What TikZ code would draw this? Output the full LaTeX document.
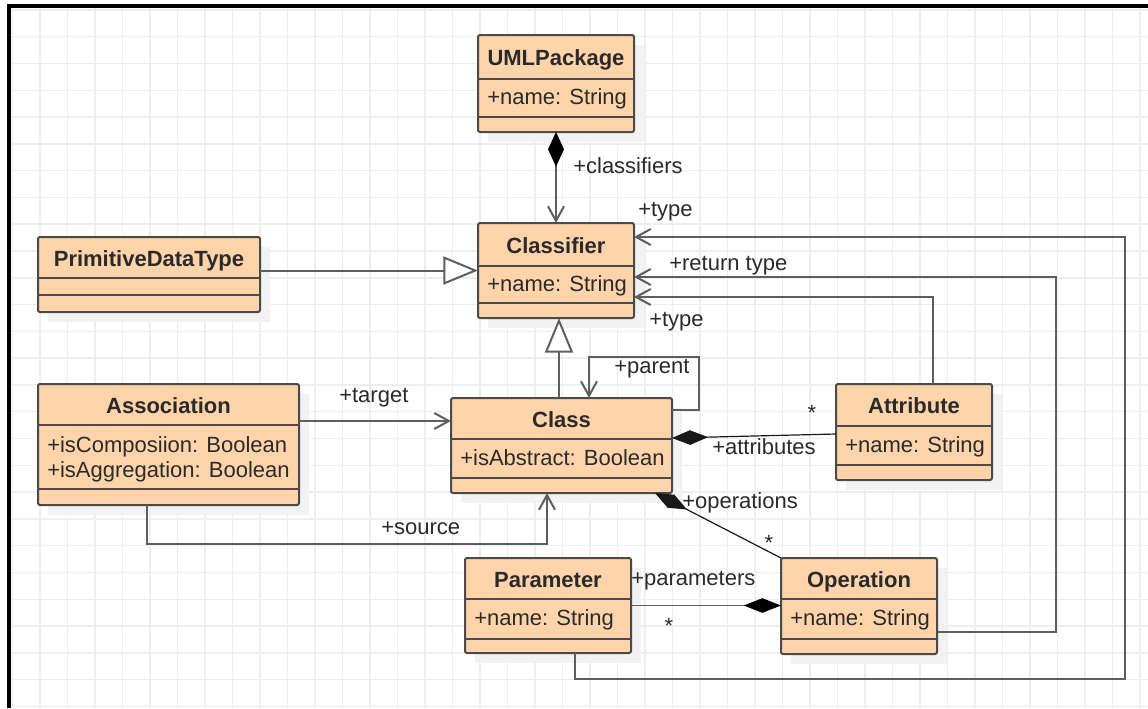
\documentclass[tikz,border=0pt]{standalone}
\usepackage{fontspec}
\setmainfont{Liberation Sans}
\usetikzlibrary{arrows.meta,calc,fit}
\definecolor{boxfill}{HTML}{FFD4AA}
\definecolor{boxline}{HTML}{4A4A4A}
\definecolor{linegray}{HTML}{5E5E5E}
\definecolor{txt}{HTML}{2A2A2A}
\definecolor{gridc}{HTML}{EEEEEE}
\newcommand{\umlfont}{\fontsize{16.5}{20}\selectfont}
% name, x1, y1, x2, y2, divider1, divider2, title, attribute
\newcommand{\umlcls}[9]{%
  \fill[boxshadow] ($(#2,#3)+(10,10)$) rectangle ($(#4,#5)+(10,10)$);
  \node[umlbox, fit={(#2,#3) (#4,#5)}] (#1) {};
  \draw[divider] (#2,#6) -- (#4,#6);
  \draw[divider] (#2,#7) -- (#4,#7);
  \node[titletxt, anchor=base] (#1-t) at ($(#2,#3)!0.5!(#4,#6)+(0,8.5)$) {#8};
  \node[attrtxt, anchor=base west] (#1-a) at ($(#2,#6)!0.5!(#2,#7)+(9,6.5)$) {#9};
}
\begin{document}
\begin{tikzpicture}[x=0.75pt,y=-0.75pt,
  umlbox/.style={draw=boxline, fill=boxfill, line width=1.5pt, rounded corners=1.5pt, inner sep=0pt, outer sep=0pt},
  divider/.style={draw=boxline, line width=1.5pt},
  boxshadow/.style={fill=black!5},
  titletxt/.style={font=\umlfont\bfseries, text=txt, inner sep=0pt},
  attrtxt/.style={font=\umlfont, text=txt, inner sep=0pt},
  lbl/.style={font=\umlfont, text=txt, inner sep=0pt, anchor=base west},
  star/.style={font=\umlfont, text=txt, inner sep=0pt, anchor=base},
  nav/.style={draw=linegray, line width=1.5pt, -{Straight Barb[length=11pt,width=12pt]}},
  gen/.style={draw=linegray, line width=1.5pt, -{Triangle[open,fill=white,length=26pt,width=21pt]}},
  compo/.style={draw=linegray, line width=1.5pt, {Diamond[length=26pt,width=12pt,color=black]}-{Straight Barb[length=11pt,width=12pt]}},
  compthin/.style={draw=black!90, line width=0.9pt, {Diamond[length=27pt,width=11pt]}-},
  compparam/.style={draw=linegray, line width=1.3pt, -{Diamond[length=28pt,width=11pt,color=black]}},
  gridline/.style={draw=gridc, line width=1.1pt}
]
\useasboundingbox (0,0) rectangle (1148,708);
\fill[white] (0,0) rectangle (1148,708);
% grid
\foreach \i in {0,...,41} { \draw[gridline] ({12.5+27.5*\i},8) -- ({12.5+27.5*\i},708); }
\foreach \j in {0,...,26} { \draw[gridline] (10,{9.9+26.79*\j}) -- (1148,{9.9+26.79*\j}); }
% frame
\draw[line width=3pt, black] (8.7,708) -- (8.7,6) -- (1148,6);

% classes
\umlcls{pkg}{478}{35}{634}{132}{79}{117}{UMLPackage}{+name: String}
\umlcls{clsf}{478}{223}{634}{318}{266}{303}{Classifier}{+name: String}
\umlcls{prim}{38}{237}{260}{312}{278}{295}{PrimitiveDataType}{}
\umlcls{assoc}{38}{384}{299}{505}{425}{489}{Association}{}
\node[attrtxt, anchor=base west] (assoc-a1) at (47,452) {+isComposiion: Boolean};
\node[attrtxt, anchor=base west] (assoc-a2) at (47,477) {+isAggregation: Boolean};
\umlcls{cls}{451}{398}{672}{493}{439}{478}{Class}{+isAbstract: Boolean}
\umlcls{param}{465}{558}{631}{653}{599}{639}{Parameter}{+name: String}
\umlcls{oper}{781}{558}{937}{654}{599}{639}{Operation}{+name: String}
\umlcls{attr}{836}{384}{992}{480}{426}{465}{Attribute}{+name: String}

% connectors
\draw[compo] (pkg) -- (clsf);
\draw[gen] (prim.east |- clsf.west) -- (clsf.west);
\draw[gen] ($(cls.north)+(-2.5,0)$) -- ($(clsf.south)+(3,0)$);
\draw[nav] ($(cls.north east)+(0,12)$) -- ++(27,0) |- ($(cls.north)+(27.5,-41)$) -- ($(cls.north)+(27.5,0)$);
\draw[nav] ($(assoc.east)+(0,-23.5)$) -- ($(cls.west)+(0,-24.5)$);
\draw[nav] ($(assoc.south)+(-21.5,0)$) |- ($(cls.south)+(-14.5,51)$) -- ($(cls.south)+(-14.5,0)$);
\draw[compthin] ($(cls.east)+(0,-7.5)$) -- ($(attr.west)+(0,2)$);
\draw[compthin] ($(cls.south east)+(-17,0)$) -- (oper.north west);
\draw[compparam] (param.east) -- (param.east -| oper.west);
\draw[nav] ($(attr.north)+(19,0)$) |- ($(clsf.east)+(0,26.5)$);
\draw[nav] ($(oper.east)+(0,26)$) -- ++(119,0) |- ($(clsf.east)+(0,6.5)$);
\draw[nav] ($(param.south)+(27,0)$) -- ++(0,26) -- ++(550,0) |- ($(clsf.east)+(0,-33.5)$);

% labels
\node[lbl] (l-classifiers) at (573,173) {+classifiers};
\node[lbl] (l-type1) at (638,216) {+type};
\node[lbl] (l-rtype) at (669,270) {+return type};
\node[lbl] (l-type2) at (649,326) {+type};
\node[lbl] (l-parent) at (614,373) {+parent};
\node[lbl] (l-target) at (339,402) {+target};
\node[lbl] (l-source) at (381,534) {+source};
\node[lbl] (l-attrs) at (712,454) {+attributes};
\node[lbl] (l-ops) at (682,508) {+operations};
\node[lbl] (l-params) at (631,585) {+parameters};
\node[star] (s-attr) at (812,420) {*};
\node[star] (s-oper) at (769,550) {*};
\node[star] (s-param) at (669,633) {*};
\end{tikzpicture}
\end{document}
